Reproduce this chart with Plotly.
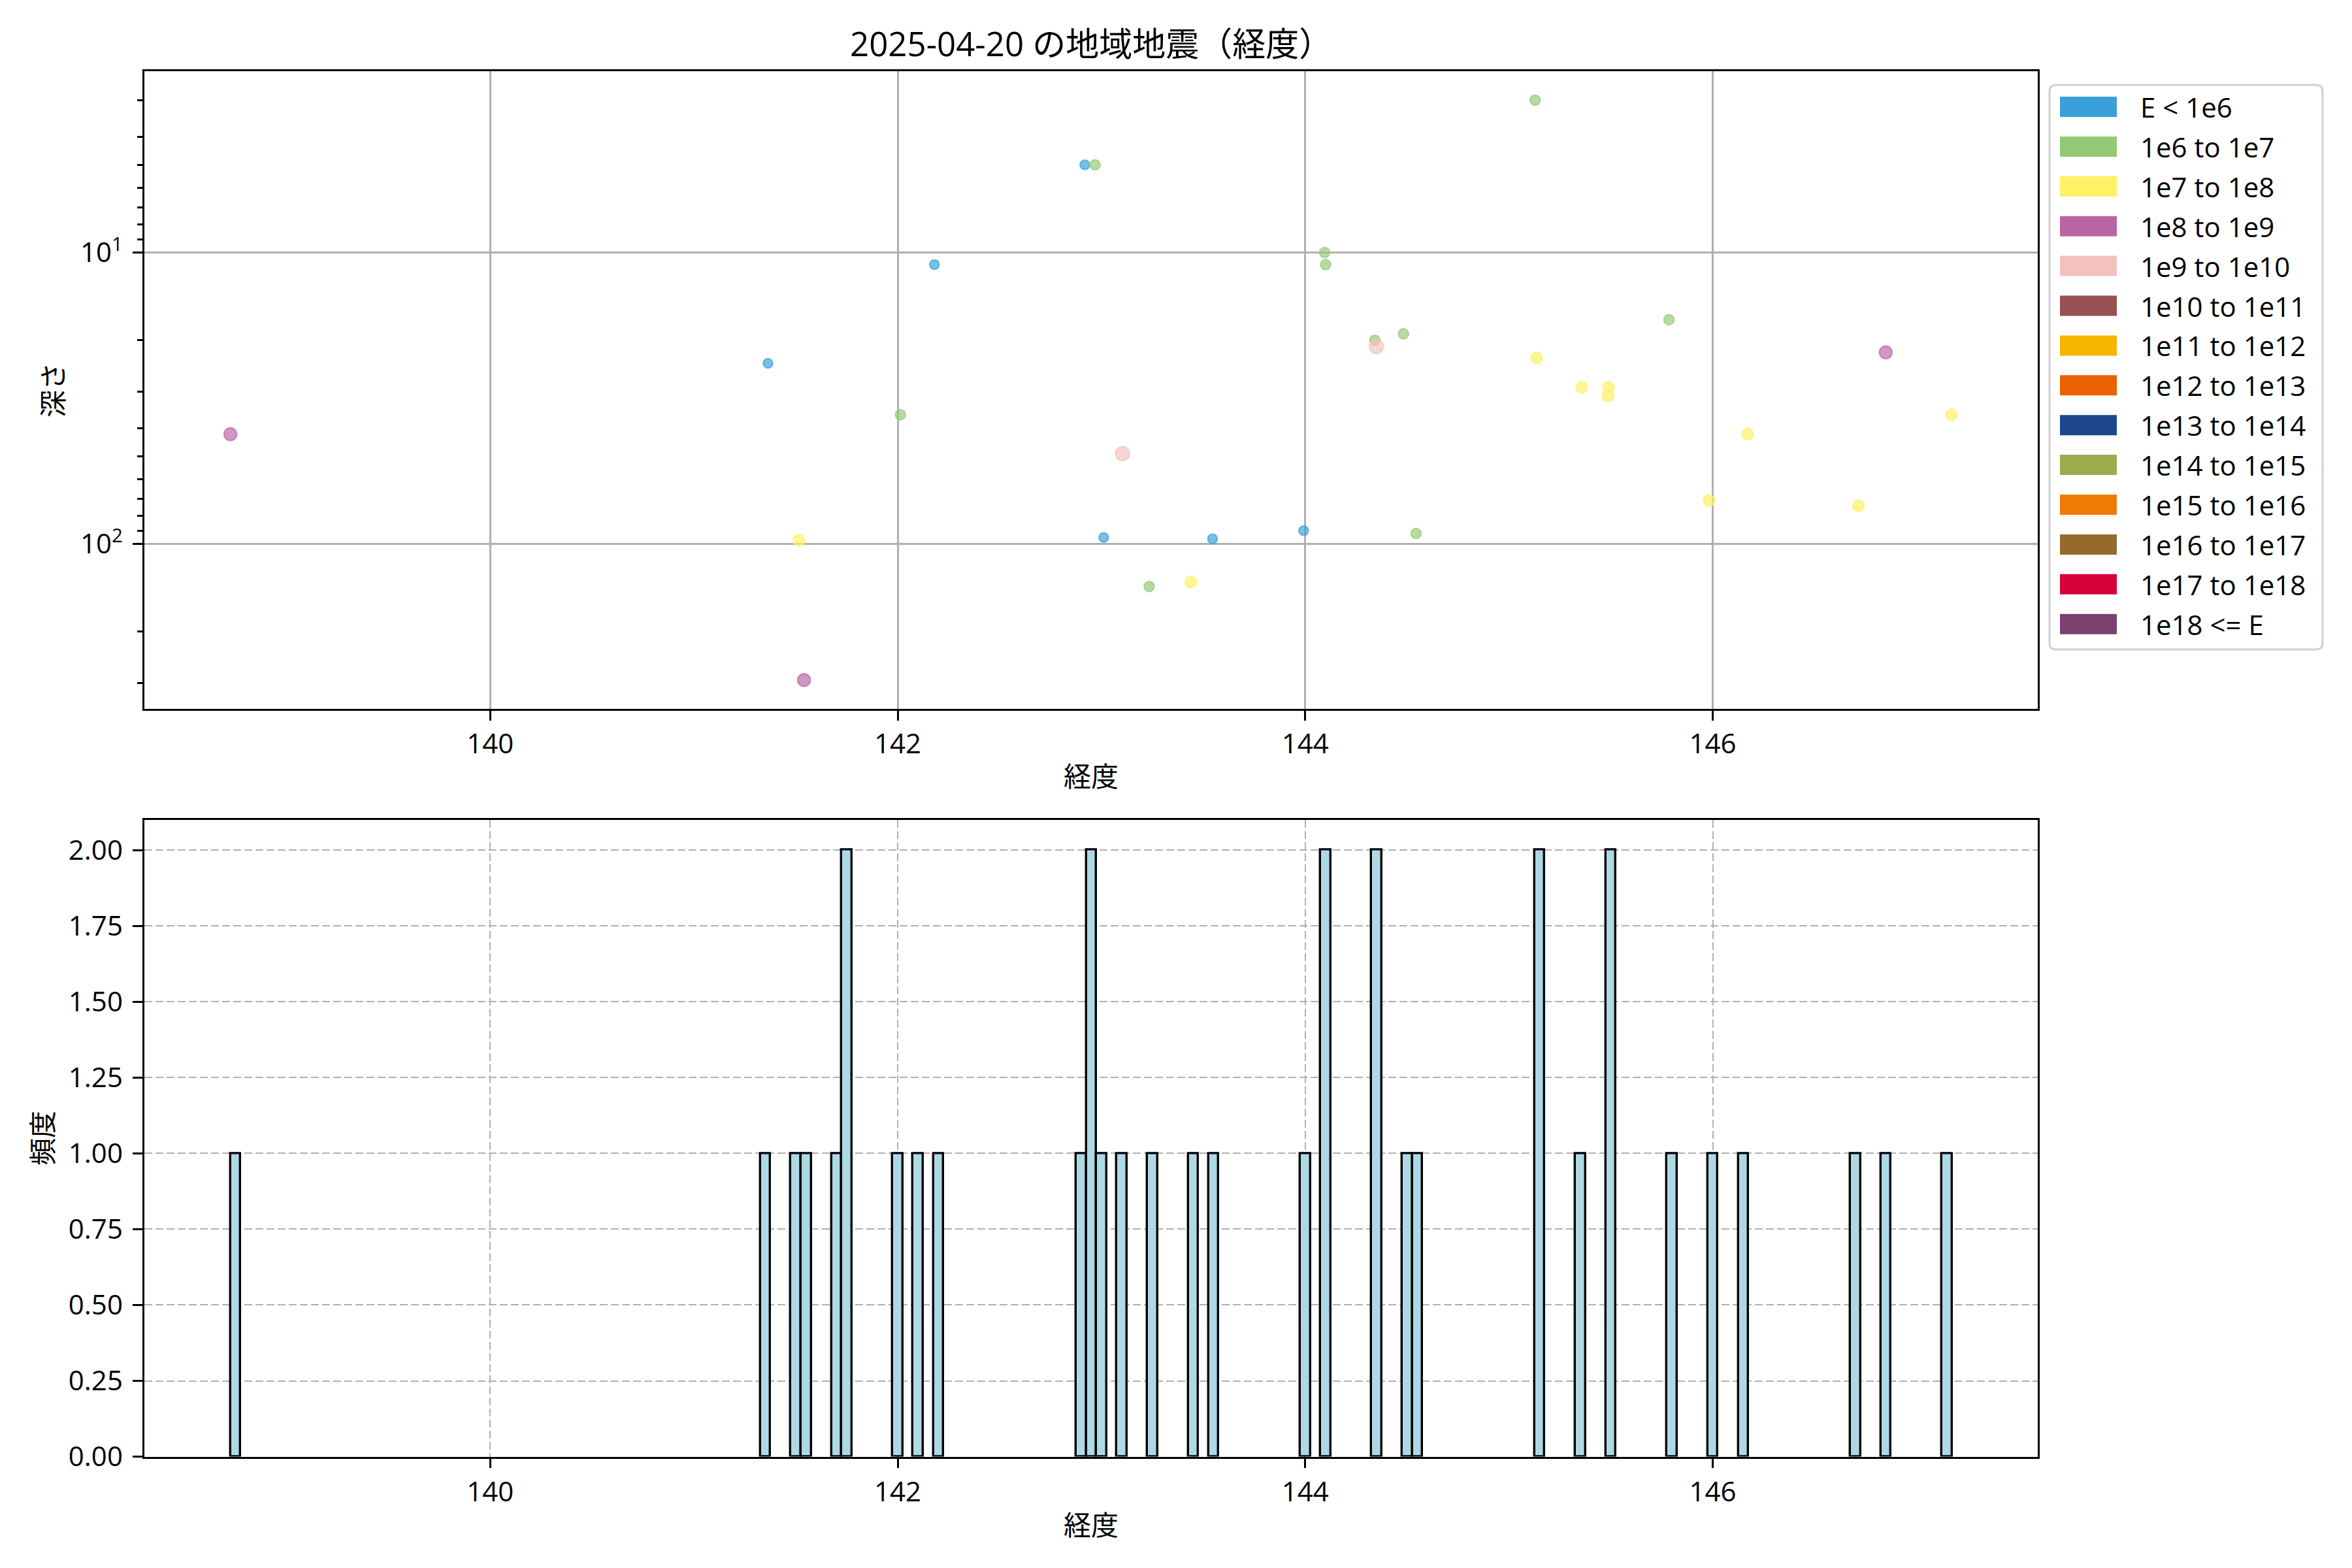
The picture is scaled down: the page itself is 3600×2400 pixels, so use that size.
import numpy as np
import plotly.graph_objects as go

# ---------------- data ----------------
TITLE = "2025-04-20 の地域地震（経度）"
X_LABEL = "経度"
Y_LABEL_TOP = "深さ"
Y_LABEL_BOTTOM = "頻度"

EVENT_LON = [
    138.725, 141.363, 141.515, 141.540, 141.700, 141.740, 141.760, 142.013, 142.100, 142.180,
    142.918, 142.950, 142.968, 143.011, 143.103, 143.234, 143.438, 143.545, 143.992, 144.095,
    144.100, 144.342, 144.349, 144.482, 144.544, 145.128, 145.135, 145.357, 145.486, 145.488,
    145.785, 145.982, 146.171, 146.715, 146.849, 147.171,
]
EVENT_DEPTH = [
    42, 24, 97, 293, 0, 0, 0, 36, 0, 11,
    5, 0, 5, 95, 49, 140, 135, 96, 90, 10,
    11, 20, 21, 19, 92, 3, 23, 29, 31, 29,
    17, 71, 42, 74, 22, 36,
]
EVENT_CLASS = [
    "1e8 to 1e9", "E < 1e6", "1e7 to 1e8", "1e8 to 1e9", "E < 1e6", "E < 1e6", "E < 1e6", "1e6 to 1e7", "E < 1e6", "E < 1e6",
    "E < 1e6", "E < 1e6", "1e6 to 1e7", "E < 1e6", "1e9 to 1e10", "1e6 to 1e7", "1e7 to 1e8", "E < 1e6", "E < 1e6", "1e6 to 1e7",
    "1e6 to 1e7", "1e6 to 1e7", "1e9 to 1e10", "1e6 to 1e7", "1e6 to 1e7", "1e6 to 1e7", "1e7 to 1e8", "1e7 to 1e8", "1e7 to 1e8", "1e7 to 1e8",
    "1e6 to 1e7", "1e7 to 1e8", "1e7 to 1e8", "1e7 to 1e8", "1e8 to 1e9", "1e7 to 1e8",
]

ENERGY_CLASSES = [
    "E < 1e6", "1e6 to 1e7", "1e7 to 1e8", "1e8 to 1e9", "1e9 to 1e10",
    "1e10 to 1e11", "1e11 to 1e12", "1e12 to 1e13", "1e13 to 1e14", "1e14 to 1e15",
    "1e15 to 1e16", "1e16 to 1e17", "1e17 to 1e18", "1e18 <= E",
]
CLASS_COLORS = [
    "#3AA0DC", "#93CA76", "#FFF066", "#BB64A4", "#F5C1BC",
    "#95514F", "#F8B500", "#EB6101", "#1C478E", "#9BAC4F",
    "#EF7A05", "#956B2D", "#D7003A", "#7B4171",
]
CLASS_SIZES = [14.5, 15.5, 17.5, 19.5, 21.5, 23, 24, 25, 26, 27, 28, 29, 30, 31]

X_TICKS = [140, 142, 144, 146]
Y_TICKS_TOP = [10, 100]
Y_TICKTEXT_TOP = ["10<sup>1</sup>", "10<sup>2</sup>"]
Y_MINOR_TOP = [3, 4, 5, 6, 7, 8, 9, 20, 30, 40, 50, 60, 70, 80, 90, 200, 300]
BIN_WIDTH = 0.05

# ---------------- style / layout (screen pixels of the 3600x2400 window) ----------------
OFF = 8                      # page body margin
W, H = 3600 - 2 * OFF, 2400 - 2 * OFF
FONT = "Open Sans, Noto Sans CJK JP"
TICK_FS = 42
AX_L, AX_R = 221.0, 3118.5
TOP_T, TOP_B = 108.9, 1085.3
BOT_T, BOT_B = 1254.6, 2229.6


def px(v):
    return (v - OFF) / W


def py(v):
    return 1 - (v - OFF) / H


def hex_rgba(h, a):
    h = h.lstrip("#")
    return "rgba(%d,%d,%d,%.3f)" % (int(h[0:2], 16), int(h[2:4], 16), int(h[4:6], 16), a)


lon = np.array(EVENT_LON, dtype=float)
dep = np.array(EVENT_DEPTH, dtype=float)
xmin, xmax = lon.min(), lon.max()
span = xmax - xmin
x_range = [xmin - 0.05 * span, xmax + 0.05 * span]

pos = dep[dep > 0]
lo, hi = np.log10(pos.min()), np.log10(pos.max())
L = hi - lo
y_range_top = [hi + 0.05 * L, lo - 0.05 * L]  # reversed (depth grows downward)

nbins = int(np.ceil((xmax - xmin) / BIN_WIDTH + 1e-9))
edges = xmin + BIN_WIDTH * np.arange(nbins + 1)
counts, _ = np.histogram(lon, bins=edges)
y_range_bot = [0, counts.max() * 1.05]

fig = go.Figure()

for ci, cls in enumerate(ENERGY_CLASSES):
    idx = [i for i, c in enumerate(EVENT_CLASS) if c == cls and EVENT_DEPTH[i] > 0]
    if not idx:
        continue
    fig.add_trace(go.Scatter(
        x=[EVENT_LON[i] for i in idx],
        y=[EVENT_DEPTH[i] for i in idx],
        mode="markers",
        name=cls,
        marker=dict(
            size=CLASS_SIZES[ci],
            color=hex_rgba(CLASS_COLORS[ci], 0.68),
            line=dict(color=hex_rgba(CLASS_COLORS[ci], 0.68), width=2.2),
        ),
        xaxis="x", yaxis="y", showlegend=False,
    ))

fig.add_trace(go.Histogram(
    x=EVENT_LON,
    xbins=dict(start=xmin, end=xmin + nbins * BIN_WIDTH, size=BIN_WIDTH),
    marker=dict(color="#ADD8E6", line=dict(color="black", width=3.4)),
    xaxis="x2", yaxis="y2", showlegend=False,
))

axis_common = dict(
    showline=True, linecolor="black", linewidth=3.2, mirror=True,
    ticks="outside", ticklen=14.6, tickwidth=3.2, tickcolor="black",
    tickfont=dict(family=FONT, size=TICK_FS, color="black"),
    zeroline=False, automargin=False,
)

xdom = [px(AX_L), px(AX_R)]
fig.update_layout(
    width=W, height=H,
    margin=dict(l=0, r=0, t=0, b=0, pad=0),
    paper_bgcolor="white", plot_bgcolor="white",
    font=dict(family=FONT, color="black"),
    showlegend=False,
    bargap=0,
    xaxis=dict(domain=xdom, anchor="y", range=x_range, tickmode="array", tickvals=X_TICKS,
               showgrid=True, gridcolor="#b0b0b0", gridwidth=2.8, **axis_common),
    yaxis=dict(domain=[py(TOP_B), py(TOP_T)], anchor="x", type="log", range=y_range_top,
               tickmode="array", tickvals=Y_TICKS_TOP, ticktext=Y_TICKTEXT_TOP,
               ticklabelstandoff=7,
               showgrid=True, gridcolor="#b0b0b0", gridwidth=2.8,
               minor=dict(tickmode="array", tickvals=Y_MINOR_TOP, ticks="outside",
                          ticklen=8.3, tickwidth=2.5, tickcolor="black", showgrid=False),
               **axis_common),
    xaxis2=dict(domain=xdom, anchor="y2", range=x_range, tickmode="array", tickvals=X_TICKS,
                showgrid=True, gridcolor="#b0b0b0", gridwidth=2.2, griddash="12px,5px",
                **axis_common),
    yaxis2=dict(domain=[py(BOT_B), py(BOT_T)], anchor="x2", range=y_range_bot,
                tickmode="linear", tick0=0, dtick=0.25, tickformat=".2f",
                ticklabelstandoff=7,
                showgrid=True, gridcolor="#b0b0b0", gridwidth=2.2, griddash="12px,5px",
                **axis_common),
)

# titles
annos = [
    dict(text=TITLE, x=px((AX_L + AX_R) / 2), y=py(66), xref="paper", yref="paper",
         xanchor="center", yanchor="middle", showarrow=False, font=dict(size=51, family=FONT)),
    dict(text=X_LABEL, x=px((AX_L + AX_R) / 2), y=py(1187), xref="paper", yref="paper",
         xanchor="center", yanchor="middle", showarrow=False, font=dict(size=42, family=FONT)),
    dict(text=X_LABEL, x=px((AX_L + AX_R) / 2), y=py(2333), xref="paper", yref="paper",
         xanchor="center", yanchor="middle", showarrow=False, font=dict(size=42, family=FONT)),
    dict(text=Y_LABEL_TOP, x=px(80), y=py((TOP_T + TOP_B) / 2), xref="paper", yref="paper",
         xanchor="center", yanchor="middle", textangle=-90, showarrow=False, font=dict(size=42, family=FONT)),
    dict(text=Y_LABEL_BOTTOM, x=px(64), y=py((BOT_T + BOT_B) / 2), xref="paper", yref="paper",
         xanchor="center", yanchor="middle", textangle=-90, showarrow=False, font=dict(size=42, family=FONT)),
]

# legend (drawn as patches + labels)
shapes = []
LX0, LX1, LY0, LY1 = 3137.0, 3555.0, 130.0, 994.0
r = 10.0
path = (
    f"M {px(LX0 + r)},{py(LY0)} L {px(LX1 - r)},{py(LY0)} Q {px(LX1)},{py(LY0)} {px(LX1)},{py(LY0 + r)} "
    f"L {px(LX1)},{py(LY1 - r)} Q {px(LX1)},{py(LY1)} {px(LX1 - r)},{py(LY1)} "
    f"L {px(LX0 + r)},{py(LY1)} Q {px(LX0)},{py(LY1)} {px(LX0)},{py(LY1 - r)} "
    f"L {px(LX0)},{py(LY0 + r)} Q {px(LX0)},{py(LY0)} {px(LX0 + r)},{py(LY0)} Z"
)
shapes.append(dict(type="path", path=path, xref="paper", yref="paper",
                   fillcolor="rgba(255,255,255,0.8)", line=dict(color="#d0d0d0", width=3), layer="above"))
ROW0, PITCH, PH = 163.5, 60.9, 31.0
for i, (cls, col) in enumerate(zip(ENERGY_CLASSES, CLASS_COLORS)):
    cy = ROW0 + i * PITCH
    shapes.append(dict(type="rect", xref="paper", yref="paper",
                       x0=px(3153), x1=px(3240), y0=py(cy + PH / 2), y1=py(cy - PH / 2),
                       fillcolor=col, line=dict(width=0), layer="above"))
    annos.append(dict(text=cls, x=px(3274), y=py(cy), xref="paper", yref="paper",
                      xanchor="left", yanchor="middle", showarrow=False,
                      font=dict(size=42, family=FONT, color="black")))

fig.update_layout(annotations=annos, shapes=shapes)
fig.write_html("out.html")
